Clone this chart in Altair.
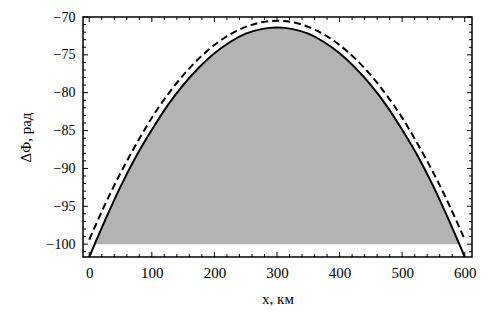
import altair as alt
import pandas as pd

# Data
x_vals = [0, 25, 50, 75, 100, 125, 150, 175, 200, 225, 250, 275, 300,
          325, 350, 375, 400, 425, 450, 475, 500, 525, 550, 575, 600]
solid_vals = [-101.7, -96.9, -92.4, -88.4, -84.9, -81.7, -79.0, -76.7, -74.8, -73.3, -72.2, -71.6, -71.4,
              -71.6, -72.2, -73.3, -74.8, -76.7, -79.0, -81.7, -84.9, -88.4, -92.4, -96.9, -101.7]
dashed_vals = [-99.4, -94.8, -90.6, -86.8, -83.3, -80.3, -77.7, -75.5, -73.7, -72.3, -71.3, -70.7, -70.5,
               -70.7, -71.3, -72.3, -73.7, -75.5, -77.7, -80.3, -83.3, -86.8, -90.6, -94.8, -99.4]
fill_x = [8.5, 25, 50, 75, 100, 125, 150, 175, 200, 225, 250, 275, 300,
          325, 350, 375, 400, 425, 450, 475, 500, 525, 550, 575, 591.5]
fill_top = [-100.0, -96.9, -92.4, -88.4, -84.9, -81.7, -79.0, -76.7, -74.8, -73.3, -72.2, -71.6, -71.4,
            -71.6, -72.2, -73.3, -74.8, -76.7, -79.0, -81.7, -84.9, -88.4, -92.4, -96.9, -100.0]
fill_base = -100.0

x_major = [0, 100, 200, 300, 400, 500, 600]
x_minor = [v for v in range(20, 600, 20) if v % 100 != 0]
y_major = [-100, -95, -90, -85, -80, -75, -70]
y_minor = [v for v in range(-101, -70) if v % 5 != 0]

W, H = 389, 240
FONT = "Liberation Serif, Times New Roman, serif"

curves = pd.DataFrame({"x": x_vals, "solid": solid_vals, "dashed": dashed_vals})
fill = pd.DataFrame({"x": fill_x, "top": fill_top, "base": [fill_base] * len(fill_x)})
xmaj = pd.DataFrame({"v": x_major})
xmin = pd.DataFrame({"v": x_minor})
ymaj = pd.DataFrame({"v": y_major})
ymin = pd.DataFrame({"v": y_minor})

xscale = alt.Scale(domain=[-10, 611.6], nice=False, zero=False)
yscale = alt.Scale(domain=[-101.7, -70], nice=False, zero=False)
xaxis = alt.Axis(title="x, км", values=x_major, ticks=False, domain=False, grid=False,
                 labelFont=FONT, labelFontSize=15, labelColor="black", labelPadding=8,
                 titleFont=FONT, titleFontSize=15, titleFontWeight="normal", titleColor="black",
                 titleY=46, titleBaseline="alphabetic")
yaxis = alt.Axis(title="ΔΦ, рад", values=y_major, ticks=False, domain=False, grid=False,
                 labelFont=FONT, labelFontSize=14, labelColor="black", labelPadding=8,
                 titleFont=FONT, titleFontSize=15, titleFontWeight="normal", titleColor="black",
                 titleX=-58, titleBaseline="middle")

X = lambda f: alt.X(f, type="quantitative", scale=xscale, axis=xaxis)
Y = lambda f: alt.Y(f, type="quantitative", scale=yscale, axis=yaxis)

area = alt.Chart(fill).mark_area(color="#b3b3b3", interpolate="monotone", clip=True).encode(
    x=X("x"), y=Y("top"), y2="base")
solid = alt.Chart(curves).mark_line(color="black", strokeWidth=2, interpolate="monotone", clip=True).encode(
    x=X("x"), y=Y("solid"))
dashed = alt.Chart(curves).mark_line(color="black", strokeWidth=2, strokeDash=[7, 4],
                                     interpolate="monotone", clip=True).encode(
    x=X("x"), y=Y("dashed"))

def xticks(df, length):
    b = alt.Chart(df).mark_rule(color="black", strokeWidth=1).encode(
        x=X("v"), y=alt.value(H), y2=alt.value(H - length))
    t = alt.Chart(df).mark_rule(color="black", strokeWidth=1).encode(
        x=X("v"), y=alt.value(0), y2=alt.value(length))
    return [b, t]

def yticks(df, length):
    l = alt.Chart(df).mark_rule(color="black", strokeWidth=1).encode(
        y=Y("v"), x=alt.value(0), x2=alt.value(length))
    r = alt.Chart(df).mark_rule(color="black", strokeWidth=1).encode(
        y=Y("v"), x=alt.value(W), x2=alt.value(W - length))
    return [l, r]

layers = [area, solid, dashed] + xticks(xmaj, 5) + xticks(xmin, 3) + yticks(ymaj, 5) + yticks(ymin, 3)

chart = alt.layer(*layers).properties(
    width=W, height=H,
    autosize=alt.AutoSizeParams(type="none"),
    padding={"left": 75, "top": 9, "right": 17, "bottom": 51},
    background="white",
).configure_view(stroke="black", strokeWidth=1.5)

chart.save("out.html", embed_options={"renderer": "svg", "actions": False})
